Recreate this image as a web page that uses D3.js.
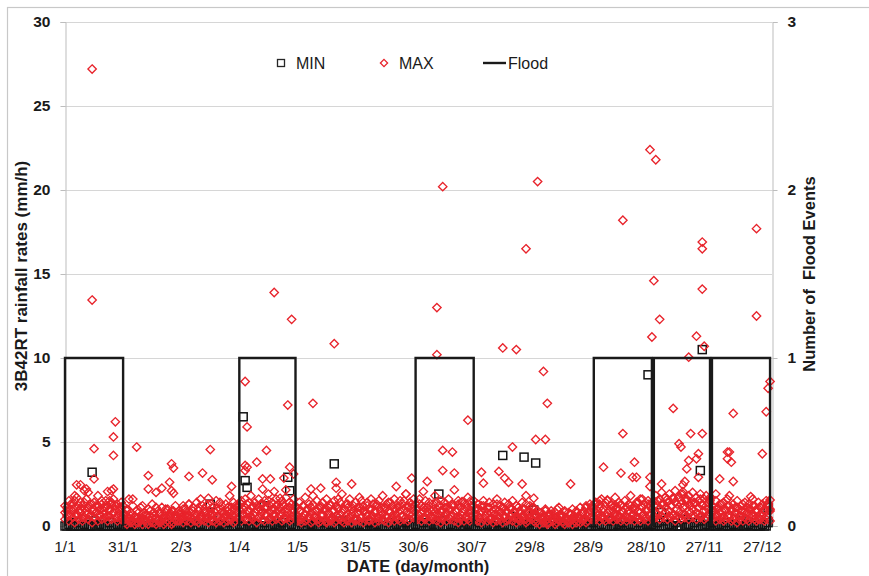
<!DOCTYPE html>
<html>
<head>
<meta charset="utf-8">
<script src="https://cdn.jsdelivr.net/npm/d3@7/dist/d3.min.js"></script>
<style>
  html, body { margin: 0; padding: 0; background: #ffffff; }
  svg { display: block; font-family: "Liberation Sans", Arial, sans-serif; }
</style>
</head>
<body>
<svg id="chart" width="869" height="576"></svg>
<script>
// ---- data -------------------------------------------------------------
// x tick days (day of year) and their labels
const tickDays = [1, 31, 61, 91, 121, 151, 181, 211, 241, 271, 301, 331, 361];
const tickLabels = ["1/1", "31/1", "2/3", "1/4", "1/5", "31/5", "30/6", "30/7", "29/8", "28/9", "28/10", "27/11", "27/12"];
const leftTicks = [0, 5, 10, 15, 20, 25, 30];
const rightTicks = [0, 1, 2, 3];

// daily MAX rainfall rate (mm/h), three bands of typical values, Jan..Dec
const maxBandA = [
  0.8,1.1,0.6,1.3,0.9,1.5,0.7,1.2,1.0,0.5,1.4,0.9,1.1,0.6,1.3,1.0,0.8,1.2,0.7,1.5,0.9,1.1,0.6,1.0,1.3,0.8,1.2,0.5,0.9,1.1,0.7,
  0.4,0.9,0.3,0.6,1.6,0.5,0.2,0.8,0.4,1.2,0.3,0.7,0.5,0.9,0.2,0.6,1.1,0.4,0.8,0.3,0.5,1.0,0.6,0.2,0.7,0.9,0.4,0.6,
  0.7,0.4,1.0,0.6,0.8,1.3,0.5,0.9,0.3,0.7,1.1,0.6,0.4,0.8,1.2,0.5,0.9,0.7,0.3,1.0,0.6,1.4,0.8,0.5,0.7,1.1,0.4,0.9,0.6,1.2,0.8,
  1.0,1.3,0.7,1.1,0.9,1.4,0.6,1.2,0.8,1.0,0.5,1.3,0.9,1.1,0.7,1.5,0.8,1.0,0.6,1.2,0.9,0.7,1.3,0.5,1.0,0.8,1.1,0.6,0.9,1.2,
  0.6,0.9,0.4,1.2,0.7,1.0,0.5,0.8,1.3,0.6,0.9,0.4,1.1,0.7,1.0,0.3,0.8,1.2,0.5,0.9,0.6,1.1,0.4,0.8,1.0,0.6,1.3,0.5,0.7,0.9,0.4,
  0.8,1.1,0.5,0.9,0.7,1.2,0.4,1.0,0.6,0.8,1.3,0.5,0.9,0.7,1.1,0.6,1.4,0.8,0.5,1.0,0.7,1.2,0.9,0.6,1.5,0.8,1.1,0.7,1.3,0.9,
  1.0,0.7,1.3,0.8,1.1,0.5,0.9,1.2,0.6,1.0,0.8,1.4,0.7,0.9,0.5,1.1,0.8,1.0,0.6,1.2,0.7,0.9,1.3,0.5,0.8,1.0,0.6,1.1,0.7,0.9,1.2,
  0.7,1.0,0.5,0.9,1.2,0.6,0.8,1.1,0.4,0.9,0.7,1.3,0.5,0.8,1.0,0.6,0.9,0.4,1.1,0.7,0.8,1.2,0.5,0.9,0.6,1.0,0.4,0.8,0.7,1.1,0.5,
  0.6,0.3,0.8,0.5,0.4,0.9,0.2,0.6,0.7,0.3,0.5,1.0,0.4,0.6,0.3,0.8,0.5,0.2,0.7,0.4,0.6,0.9,0.3,0.5,0.8,0.4,1.1,0.6,0.9,1.2,
  0.9,1.3,0.7,1.1,0.6,1.0,1.4,0.8,0.5,1.2,0.9,0.7,1.1,0.6,1.3,0.8,1.0,0.5,0.9,1.2,0.7,1.0,0.6,1.4,0.8,1.1,0.7,0.9,1.3,0.6,1.0,
  1.2,0.8,1.5,1.0,1.3,0.7,1.1,1.6,0.9,1.2,0.6,1.4,1.0,0.8,1.3,1.1,0.7,1.5,0.9,1.2,1.0,1.4,0.8,1.1,0.6,1.3,0.9,1.2,1.0,1.5,
  0.9,1.1,0.6,1.0,0.8,1.3,0.5,0.9,1.2,0.7,1.0,0.4,0.8,1.1,0.6,0.9,1.3,0.5,0.8,1.0,0.7,1.2,0.6,0.9,0.4,1.1,0.8,1.0,0.6,1.3,0.9
];
const maxBandB = [
  0.4,0.6,0.3,0.7,0.5,0.2,0.6,0.4,0.8,0.3,0.5,0.7,0.4,0.6,0.2,0.5,0.8,0.3,0.6,0.4,0.7,0.5,0.3,0.6,0.4,0.8,0.5,0.3,0.6,0.4,0.5,
  0.2,0.1,0.4,0.2,0.3,0.1,0.5,0.2,0.3,0.1,0.4,0.2,0.1,0.3,0.5,0.2,0.1,0.3,0.2,0.4,0.1,0.2,0.3,0.5,0.1,0.2,0.4,0.3,
  0.3,0.5,0.2,0.4,0.3,0.6,0.2,0.4,0.5,0.3,0.2,0.4,0.6,0.3,0.5,0.2,0.4,0.3,0.6,0.2,0.5,0.3,0.4,0.2,0.6,0.3,0.5,0.4,0.2,0.3,0.5,
  0.5,0.3,0.6,0.4,0.7,0.3,0.5,0.4,0.6,0.2,0.5,0.7,0.4,0.3,0.6,0.4,0.5,0.3,0.7,0.4,0.5,0.6,0.3,0.4,0.6,0.5,0.3,0.4,0.6,0.5,
  0.3,0.4,0.2,0.5,0.3,0.4,0.6,0.2,0.3,0.5,0.4,0.2,0.3,0.6,0.4,0.2,0.5,0.3,0.4,0.2,0.3,0.5,0.6,0.3,0.2,0.4,0.3,0.5,0.2,0.4,0.3,
  0.4,0.3,0.5,0.2,0.4,0.6,0.3,0.5,0.4,0.2,0.5,0.3,0.6,0.4,0.3,0.5,0.2,0.4,0.6,0.3,0.5,0.4,0.3,0.6,0.4,0.5,0.3,0.4,0.6,0.5,
  0.5,0.4,0.6,0.3,0.5,0.4,0.7,0.3,0.5,0.4,0.6,0.3,0.5,0.2,0.4,0.6,0.3,0.5,0.4,0.6,0.3,0.5,0.2,0.4,0.6,0.3,0.5,0.4,0.3,0.6,0.4,
  0.4,0.3,0.5,0.2,0.4,0.6,0.3,0.4,0.5,0.2,0.4,0.3,0.6,0.4,0.2,0.5,0.3,0.4,0.6,0.3,0.5,0.2,0.4,0.3,0.5,0.4,0.2,0.3,0.5,0.4,0.3,
  0.2,0.3,0.1,0.4,0.2,0.3,0.1,0.2,0.4,0.3,0.1,0.2,0.3,0.5,0.2,0.1,0.3,0.2,0.4,0.1,0.3,0.2,0.5,0.2,0.3,0.4,0.2,0.3,0.5,0.4,
  0.5,0.4,0.6,0.3,0.5,0.4,0.3,0.6,0.4,0.5,0.3,0.6,0.4,0.5,0.3,0.4,0.6,0.3,0.5,0.4,0.6,0.3,0.5,0.4,0.3,0.6,0.4,0.5,0.3,0.6,0.4,
  0.6,0.5,0.7,0.4,0.6,0.5,0.8,0.4,0.6,0.5,0.7,0.3,0.6,0.5,0.4,0.7,0.5,0.6,0.4,0.8,0.5,0.6,0.4,0.7,0.5,0.6,0.4,0.5,0.7,0.6,
  0.4,0.5,0.3,0.6,0.4,0.5,0.3,0.4,0.6,0.5,0.3,0.4,0.5,0.2,0.4,0.6,0.3,0.5,0.4,0.3,0.5,0.6,0.4,0.3,0.5,0.4,0.6,0.3,0.4,0.5,0.3
];
const maxBandC = [
  1.2,0.9,1.5,1.0,1.3,1.1,1.7,0.9,1.4,1.2,1.0,1.6,1.1,1.3,0.9,1.4,1.2,1.8,1.0,1.3,1.1,1.5,1.2,0.9,1.4,1.6,1.0,1.3,1.1,1.4,1.2,
  0.7,1.0,0.5,0.8,1.2,0.6,0.9,0.5,1.1,0.7,0.8,0.6,1.0,0.6,1.3,0.8,0.5,0.9,0.7,1.1,0.6,0.8,1.0,0.7,0.9,0.6,1.2,0.8,
  0.9,0.7,1.2,1.0,0.6,1.3,0.8,1.1,0.7,1.4,0.9,0.6,1.2,1.0,0.8,1.3,0.7,1.1,0.9,1.5,0.6,1.0,1.2,0.8,1.3,0.9,0.7,1.1,1.4,1.0,1.2,
  1.2,1.5,1.0,1.6,1.3,0.9,1.8,1.1,1.4,1.2,1.6,1.0,1.3,1.5,1.1,1.9,1.2,1.4,1.0,1.6,1.3,1.1,1.5,1.2,1.7,1.0,1.4,1.3,1.6,1.1,
  1.0,1.4,0.9,1.2,1.7,1.0,1.3,1.1,1.8,0.9,1.5,1.0,1.2,1.4,0.9,1.6,1.1,1.3,0.9,1.5,1.2,1.0,1.4,1.9,1.0,1.3,1.1,1.6,1.0,1.2,1.4,
  1.1,0.9,1.5,1.2,0.9,1.4,1.0,1.6,1.3,0.9,1.2,1.5,1.1,1.8,1.0,1.3,0.9,1.4,1.2,1.6,1.0,1.1,1.5,1.3,1.0,1.9,1.2,1.4,1.1,1.6,
  1.3,1.0,1.6,1.2,0.9,1.5,1.1,1.4,0.9,1.3,1.8,1.0,1.2,1.5,0.9,1.4,1.1,1.6,1.0,1.3,1.2,0.9,1.5,1.1,1.4,1.0,1.3,1.7,0.9,1.2,1.5,
  1.0,1.3,0.8,1.2,1.5,0.9,1.1,1.4,0.8,1.3,1.0,1.6,0.9,1.2,1.1,1.4,0.8,1.3,1.0,1.5,0.9,1.2,1.1,0.8,1.4,1.0,1.3,0.9,1.2,0.8,1.1,
  0.7,0.9,0.5,0.8,0.6,1.0,0.4,0.7,0.9,0.6,0.8,0.5,1.1,0.7,0.6,0.9,0.4,0.8,0.7,1.0,0.5,0.8,0.6,1.1,0.7,0.9,1.2,0.8,1.3,1.1,
  1.1,1.4,0.9,1.3,1.6,1.0,1.2,1.5,0.9,1.3,1.1,1.7,1.0,1.4,1.2,0.9,1.5,1.1,1.3,1.8,1.0,1.2,1.4,0.9,1.6,1.1,1.3,1.0,1.5,1.2,1.4,
  1.5,1.8,1.2,1.6,2.0,1.3,1.7,1.4,1.9,1.2,1.6,2.1,1.3,1.7,1.5,1.9,1.2,1.6,1.8,1.4,2.0,1.3,1.7,1.5,1.9,1.2,1.6,1.8,1.4,1.7,
  1.2,0.9,1.5,1.1,1.3,0.9,1.4,1.0,1.6,1.2,0.9,1.3,1.1,1.5,1.0,1.2,0.9,1.4,1.1,1.3,1.0,1.6,1.2,1.0,1.4,1.1,1.3,0.9,1.5,1.2,1.0
];
// MAX events standing out above the band: [day of year, mm/h]
const maxPeaks = [
  [15,27.2],[15,13.45],[16,4.6],[27,6.2],[26,5.3],[26,4.2],[26,2.2],[25,2.1],[23,2.05],[24,1.5],[16,2.8],[7,2.45],[9,2.45],[12,2.2],[11,2.1],[13,2.0],[6,1.8],
  [38,4.7],[34,1.6],[44,3.0],[44,2.2],[48,2.0],[51,2.25],[56,3.7],[57,3.45],[55,2.6],[56,2.1],[57,1.95],[65,2.95],[72,3.15],[76,4.55],[77,2.75],[71,1.6],[75,1.65],[87,2.35],[86,1.8],
  [94,8.6],[95,5.9],[94,3.6],[95,3.5],[94,3.3],[100,3.8],[105,4.5],[103,2.8],[107,2.8],[103,2.2],[109,2.05],[112,1.65],[117,3.5],[119,3.1],[115,2.15],[109,13.9],[118,12.3],[116,7.2],
  [129,7.3],[140,10.85],[114,2.85],[128,2.2],[133,2.25],[141,2.6],[141,2.25],[149,2.5],[142,1.6],[153,1.7],[172,2.35],[180,2.85],[177,1.9],[186,2.05],[188,2.65],
  [196,20.2],[193,13.0],[193,10.2],[196,4.5],[201,4.4],[196,3.3],[202,3.15],[202,2.15],[206,1.45],[210,1.45],[209,6.3],[216,3.2],[217,2.55],[225,3.25],[228,2.85],[230,2.6],[232,4.7],[237,2.5],[239,1.8],[243,1.65],[244,5.15],[249,5.15],[262,2.5],[227,10.6],[234,10.5],[239,16.5],[245,20.5],[248,9.2],[250,7.3],
  [289,5.5],[279,3.5],[288,3.15],[295,3.8],[294,2.9],[296,2.9],[303,2.9],[303,2.35],[309,2.5],[277,1.5],[281,1.55],[285,1.25],[299,1.6],
  [303,22.4],[306,21.8],[289,18.2],[305,14.6],[308,12.3],[304,11.25],[315,7.0],
  [324,5.5],[330,5.5],[318,4.9],[319,4.7],[328,4.3],[327,4.0],[323,3.9],[322,3.4],[328,2.9],[321,2.65],[320,2.45],[320,2.05],[319,1.9],[315,1.7],[316,1.45],[322,1.6],[329,1.6],[334,1.6],
  [330,16.9],[330,16.5],[330,14.1],[327,11.3],[331,10.7],[323,10.05],
  [343,4.4],[344,4.4],[343,4.0],[345,3.8],[346,2.65],[339,2.8],[344,1.8],[337,1.9],[355,1.75],[361,4.3],[365,1.55],[364,1.35],
  [358,17.7],[358,12.5],[365,8.6],[364,8.2],[363,6.8],[346,6.7]
];

// daily MIN rainfall rate (mm/h), Jan..Dec
const minBand = [
  0,0,0.1,0,0,0,0.2,0,0,0,0.1,0,0,0,0,0.3,0,0,0.1,0,0,0,0,0.2,0,0,0,0.1,0,0,0,
  0,0,0,0.1,0,0,0,0,0.2,0,0,0,0,0,0.1,0,0,0,0,0,0.2,0,0,0,0,0.1,0,
  0,0,0.1,0,0,0,0,0.2,0,0,0,0,0.1,0,0,0,0,0,0.3,0,0,0,0.1,0,0,0,0,0.2,0,0,0,
  0,0.1,0,0,0,0.3,0,0,0,0.1,0,0,0,0,0.2,0,0,0,0,0.1,0,0,0,0.2,0,0,0,0,0.1,0,
  0,0,0,0.2,0,0,0,0,0.1,0,0,0,0,0,0.2,0,0,0,0.1,0,0,0,0,0,0.3,0,0,0,0.1,0,0,
  0,0,0.1,0,0,0,0,0.2,0,0,0,0.1,0,0,0,0,0,0.2,0,0,0,0.1,0,0,0,0,0.2,0,0,0,
  0,0.1,0,0,0,0.2,0,0,0,0,0.1,0,0,0,0.3,0,0,0,0,0.1,0,0,0,0.2,0,0,0,0,0.1,0,0,
  0,0,0,0.2,0,0,0,0.1,0,0,0,0,0.2,0,0,0,0.1,0,0,0,0,0.3,0,0,0,0.1,0,0,0,0.2,0,
  0,0,0,0,0.1,0,0,0,0,0,0.2,0,0,0,0,0.1,0,0,0,0,0,0.1,0,0,0,0,0.2,0,0,0,
  0,0.2,0,0,0,0.1,0,0,0,0.3,0,0,0,0.1,0,0,0.2,0,0,0,0.1,0,0,0,0.2,0,0,0,0.1,0,0,
  0.1,0,0,0.2,0,0,0.3,0,0,0.1,0,0,0.2,0,0,0,0.4,0,0,0.1,0,0,0.2,0,0,0.3,0,0,0.1,0,
  0,0.2,0,0,0,0.1,0,0,0.2,0,0,0,0.1,0,0,0,0.3,0,0,0,0.1,0,0,0.2,0,0,0,0.1,0,0,0.2
];
// MIN values standing out above the band: [day of year, mm/h]
const minPeaks = [
  [15,3.2],[93,6.5],[94,2.7],[95,2.3],[104,1.2],[116,2.9],[117,2.1],[76,1.3],[140,3.7],[194,1.9],
  [227,4.2],[232,0.55],[238,4.1],[244,3.75],[243,0.95],[302,9.0],[309,0.8],[330,10.5],[329,3.3],[364,1.1]
];

// flood months (first and last day of year) on the secondary axis, one event each
const floodStart = [1, 91, 182, 274, 305, 335];
const floodEnd   = [31, 120, 212, 304, 334, 365];
const floodCount = [1, 1, 1, 1, 1, 1];

// ---- drawing ----------------------------------------------------------
const svg = d3.select("#chart");
const plot = { left: 65, right: 772, top: 22, bottom: 526 };

const x = d3.scaleLinear().domain([1, 366]).range([plot.left, plot.right]);
const y = d3.scaleLinear().domain([0, 30]).range([plot.bottom, plot.top]);
const y2 = d3.scaleLinear().domain([0, 3]).range([plot.bottom, plot.top]);

const RED = "#e8232b";
const INK = "#1a1a1a";

// outer frame
svg.append("rect").attr("x", 7.5).attr("y", 7.5).attr("width", 880).attr("height", 600)
  .attr("fill", "none").attr("stroke", "#c8c8c8").attr("stroke-width", 1.2);

// horizontal gridlines
svg.append("g").selectAll("line").data(leftTicks.filter(t => t > 0)).join("line")
  .attr("x1", plot.left).attr("x2", plot.right)
  .attr("y1", d => Math.round(y(d)) + 0.5).attr("y2", d => Math.round(y(d)) + 0.5)
  .attr("stroke", "#d6d6d6").attr("stroke-width", 1);

// left axis
const axL = svg.append("g").attr("transform", `translate(${plot.left + 0.5},0)`)
  .call(d3.axisLeft(y).tickValues(leftTicks).tickSize(5).tickPadding(10).tickFormat(d3.format("d")));
axL.select(".domain").attr("stroke", "#bdbdbd");
axL.selectAll(".tick line").attr("stroke", "#bdbdbd");
axL.selectAll(".tick text").attr("font-size", "15.5px").attr("font-weight", "bold")
  .attr("fill", INK).attr("font-family", "Liberation Sans, Arial, sans-serif");

// right axis
const axR = svg.append("g").attr("transform", `translate(${plot.right + 0.5},0)`)
  .call(d3.axisRight(y2).tickValues(rightTicks).tickSize(5).tickPadding(10).tickFormat(d3.format("d")));
axR.select(".domain").attr("stroke", "#bdbdbd");
axR.selectAll(".tick line").attr("stroke", "#bdbdbd");
axR.selectAll(".tick text").attr("font-size", "15.5px").attr("font-weight", "bold")
  .attr("fill", INK).attr("font-family", "Liberation Sans, Arial, sans-serif");

// MIN squares
const minPts = minBand.map((v, i) => [i + 1, v]).concat(minPeaks);
const sq = 8;
svg.append("g").selectAll("rect").data(minPts).join("rect")
  .attr("x", d => x(d[0]) - sq / 2).attr("y", d => y(d[1]) - sq / 2)
  .attr("width", sq).attr("height", sq)
  .attr("fill", "none").attr("stroke", "#141414").attr("stroke-width", 1.5);

// MAX diamonds
const maxPts = [maxBandA, maxBandB, maxBandC]
  .flatMap(band => band.map((v, i) => [i + 1, v]))
  .concat(maxPeaks);
const diamond = "M0,-4.2L4.2,0L0,4.2L-4.2,0Z";
svg.append("g").selectAll("path").data(maxPts).join("path")
  .attr("d", diamond)
  .attr("transform", d => `translate(${x(d[0])},${y(d[1])})`)
  .attr("fill", "none").attr("stroke", RED).attr("stroke-width", 1.35);

// flood events (secondary axis)
const floodLine = d3.line().x(d => x(d[0])).y(d => y2(d[1]));
floodStart.forEach((s, i) => {
  const e = floodEnd[i], n = floodCount[i];
  svg.append("path")
    .attr("d", floodLine([[s, 0], [s, n], [e, n], [e, 0]]))
    .attr("fill", "none").attr("stroke", INK).attr("stroke-width", 2.4);
});

// x tick labels
svg.append("g").selectAll("text").data(tickDays).join("text")
  .attr("x", d => x(d)).attr("y", 552)
  .attr("text-anchor", "middle").attr("font-size", "15.5px").attr("fill", INK)
  .text((d, i) => tickLabels[i]);

// axis titles
svg.append("text").attr("x", 418).attr("y", 572).attr("text-anchor", "middle")
  .attr("font-size", "16.5px").attr("font-weight", "bold").attr("fill", INK)
  .text("DATE (day/month)");
svg.append("text").attr("transform", "translate(27,276) rotate(-90)").attr("text-anchor", "middle")
  .attr("font-size", "17px").attr("font-weight", "bold").attr("fill", INK)
  .text("3B42RT rainfall rates (mm/h)");
svg.append("text").attr("transform", "translate(815,274) rotate(-90)").attr("text-anchor", "middle")
  .attr("font-size", "16.5px").attr("font-weight", "bold").attr("fill", INK)
  .style("white-space", "pre")
  .text("Number of  Flood Events");

// legend
const lg = svg.append("g");
lg.append("rect").attr("x", 277.5).attr("y", 59.5).attr("width", 7).attr("height", 7)
  .attr("fill", "none").attr("stroke", "#262626").attr("stroke-width", 1.3);
lg.append("text").attr("x", 296).attr("y", 69).attr("font-size", "16px").attr("fill", INK).text("MIN");
lg.append("path").attr("d", "M0,-3.6L3.6,0L0,3.6L-3.6,0Z").attr("transform", "translate(384,63)")
  .attr("fill", "none").attr("stroke", RED).attr("stroke-width", 1.3);
lg.append("text").attr("x", 399).attr("y", 69).attr("font-size", "16px").attr("fill", INK).text("MAX");
lg.append("line").attr("x1", 483).attr("x2", 506).attr("y1", 63).attr("y2", 63)
  .attr("stroke", INK).attr("stroke-width", 2.4);
lg.append("text").attr("x", 508).attr("y", 69).attr("font-size", "16px").attr("fill", INK).text("Flood");
</script>
</body>
</html>
